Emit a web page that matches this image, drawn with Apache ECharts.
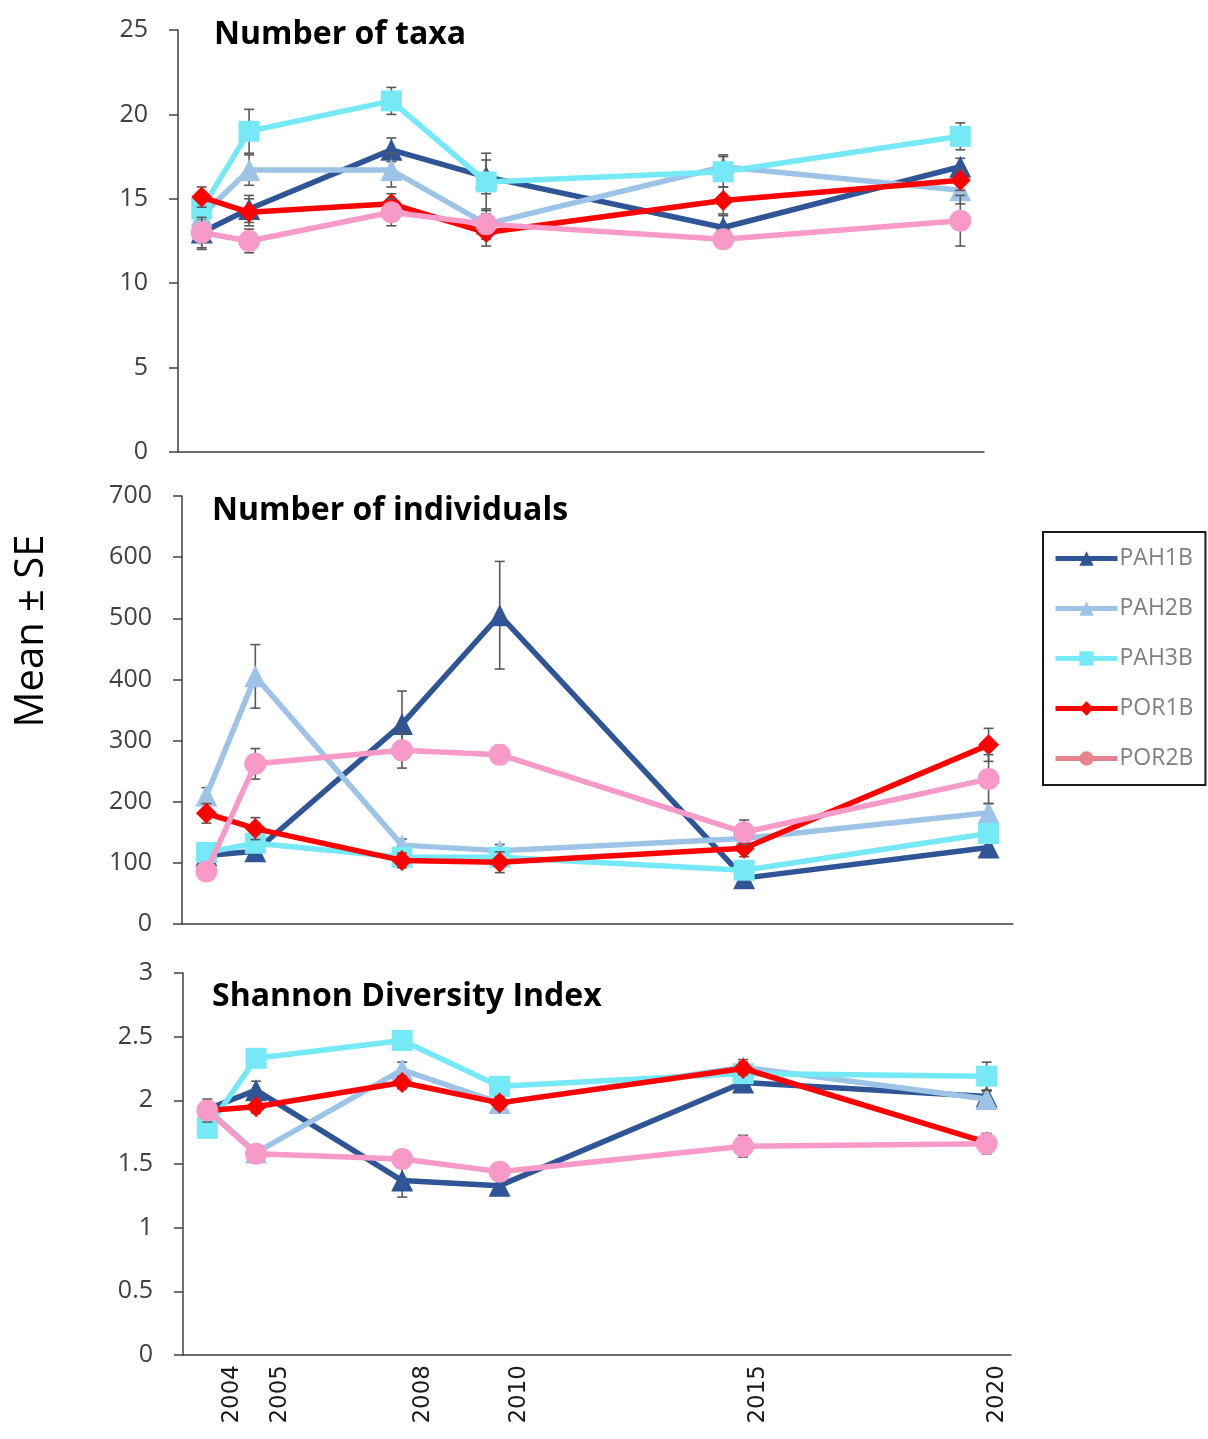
<!DOCTYPE html>
<html>
<head>
<meta charset="utf-8">
<title>Benthic community metrics, 2004–2020</title>
<script src="https://cdn.jsdelivr.net/npm/echarts@6/dist/echarts.min.js"></script>
<style>
  html, body { margin: 0; padding: 0; background: #fff; }
  #chart { width: 1208px; height: 1439px; }
</style>
</head>
<body>
<div id="chart"></div>
<script>
// Sampling years and sites
const years = [2004, 2005, 2008, 2010, 2015, 2020];
const sites = ['PAH1B', 'PAH2B', 'PAH3B', 'POR1B', 'POR2B'];

// Number of taxa: mean and standard error per site
const taxaPAH1B = [13.0, 14.4, 17.9, 16.3, 13.3, 16.9];
const taxaPAH2B = [14.0, 16.7, 16.7, 13.5, 16.9, 15.5];
const taxaPAH3B = [14.4, 19.0, 20.8, 16.0, 16.6, 18.7];
const taxaPOR1B = [15.1, 14.2, 14.7, 13.0, 14.9, 16.1];
const taxaPOR2B = [13.0, 12.5, 14.2, 13.5, 12.6, 13.7];
const taxaSePAH1B = [1.0, 0.8, 0.7, 1.0, 0.7, 0.5];
const taxaSePAH2B = [0.7, 0.9, 1.0, 0.9, 0.7, 0.8];
const taxaSePAH3B = [0.6, 1.3, 0.8, 1.7, 0.9, 0.8];
const taxaSePOR1B = [0.6, 0.8, 0.6, 0.8, 0.8, 0.6];
const taxaSePOR2B = [0.9, 0.7, 0.8, 0.6, 0.4, 1.5];

// Number of individuals: mean and standard error per site
const indPAH1B = [112, 119, 327, 505, 75, 125];
const indPAH2B = [210, 405, 129, 120, 140, 182];
const indPAH3B = [117, 132, 109, 109, 88, 148];
const indPOR1B = [181, 156, 104, 101, 124, 293];
const indPOR2B = [86, 262, 284, 277, 150, 237];
const indSePAH1B = [10, 12, 54, 88, 10, 10];
const indSePAH2B = [13, 52, 10, 10, 12, 15];
const indSePAH3B = [10, 10, 10, 10, 8, 12];
const indSePOR1B = [16, 18, 12, 17, 14, 27];
const indSePOR2B = [10, 25, 29, 15, 20, 40];

// Shannon diversity index: mean and standard error per site
const shPAH1B = [1.93, 2.08, 1.37, 1.33, 2.14, 2.03];
const shPAH2B = [1.93, 1.59, 2.24, 1.98, 2.26, 2.01];
const shPAH3B = [1.78, 2.33, 2.47, 2.11, 2.21, 2.19];
const shPOR1B = [1.92, 1.95, 2.14, 1.98, 2.25, 1.67];
const shPOR2B = [1.92, 1.58, 1.54, 1.44, 1.64, 1.66];
const shSePAH1B = [0.05, 0.07, 0.13, 0.04, 0.05, 0.05];
const shSePAH2B = [0.06, 0.05, 0.06, 0.05, 0.06, 0.06];
const shSePAH3B = [0.05, 0.05, 0.04, 0.05, 0.05, 0.11];
const shSePOR1B = [0.05, 0.05, 0.05, 0.05, 0.05, 0.06];
const shSePOR2B = [0.09, 0.05, 0.05, 0.04, 0.085, 0.08];

// Panel titles and y-axis tick settings
const panelTitles = ['Number of taxa', 'Number of individuals', 'Shannon Diversity Index'];
const yMax = [25, 700, 3];
const yStep = [5, 100, 0.5];

const panels = [
  { means: [taxaPAH1B, taxaPAH2B, taxaPAH3B, taxaPOR1B, taxaPOR2B],
    ses:   [taxaSePAH1B, taxaSePAH2B, taxaSePAH3B, taxaSePOR1B, taxaSePOR2B] },
  { means: [indPAH1B, indPAH2B, indPAH3B, indPOR1B, indPOR2B],
    ses:   [indSePAH1B, indSePAH2B, indSePAH3B, indSePOR1B, indSePOR2B] },
  { means: [shPAH1B, shPAH2B, shPAH3B, shPOR1B, shPOR2B],
    ses:   [shSePAH1B, shSePAH2B, shSePAH3B, shSePOR1B, shSePOR2B] }
];

const siteColors = ['#2F5597', '#9DC3E6', '#75EAF6', '#FF0000', '#F79AC8'];
const siteSymbols = ['triangle', 'triangle', 'rect', 'diamond', 'circle'];
const siteSymbolSizes = [22, 22, 21, 21, 22];

const FONT = '"Open Sans", "Liberation Sans", sans-serif';
const axisColor = '#404040';

const grids = [
  { left: 178, top: 30, width: 806, height: 422 },
  { left: 182, top: 496, width: 831, height: 428 },
  { left: 183, top: 973, width: 828, height: 382 }
];

function errorBar(params, api) {
  const x = api.value(0);
  const lo = api.coord([x, api.value(1)]);
  const hi = api.coord([x, api.value(2)]);
  const hw = 5;
  const style = { stroke: '#5a5a5a', lineWidth: 1.6 };
  return {
    type: 'group',
    children: [
      { type: 'line', shape: { x1: lo[0], y1: lo[1], x2: hi[0], y2: hi[1] }, style },
      { type: 'line', shape: { x1: lo[0] - hw, y1: lo[1], x2: lo[0] + hw, y2: lo[1] }, style },
      { type: 'line', shape: { x1: hi[0] - hw, y1: hi[1], x2: hi[0] + hw, y2: hi[1] }, style }
    ]
  };
}

const xAxes = [];
const yAxes = [];
const series = [];

panels.forEach((panel, p) => {
  xAxes.push({
    type: 'value', gridIndex: p, min: 2003.5, max: 2020.5,
    axisLine: { show: true, lineStyle: { color: axisColor, width: 1.5 } },
    axisTick: { show: false }, axisLabel: { show: false }, splitLine: { show: false }
  });
  yAxes.push({
    type: 'value', gridIndex: p, min: 0, max: yMax[p], interval: yStep[p],
    axisLine: { show: true, lineStyle: { color: axisColor, width: 1.5 } },
    axisTick: { show: true, length: 9, lineStyle: { color: axisColor, width: 1.5 } },
    axisLabel: { color: '#404040', fontSize: 25, fontFamily: FONT, margin: 30 },
    splitLine: { show: false }
  });
  sites.forEach((site, i) => {
    const m = panel.means[i];
    const s = panel.ses[i];
    // error bars sit just beneath their own series' line and markers
    series.push({
      name: site + ' SE', type: 'custom', xAxisIndex: p, yAxisIndex: p,
      renderItem: errorBar,
      data: years.map((y, k) => [y, m[k] - s[k], m[k] + s[k]]),
      encode: { x: 0, y: [1, 2] },
      z: 1 + i * 2, silent: true, animation: false
    });
    series.push({
      name: site, type: 'line', xAxisIndex: p, yAxisIndex: p,
      data: years.map((y, k) => [y, m[k]]),
      symbol: siteSymbols[i], symbolSize: siteSymbolSizes[i],
      lineStyle: { color: siteColors[i], width: 5.5 },
      itemStyle: { color: siteColors[i] },
      z: 2 + i * 2, silent: true, animation: false
    });
  });
});

// Year labels under the bottom panel
xAxes.push({
  type: 'value', gridIndex: 2, min: 2002.97, max: 2020.29, position: 'bottom',
  axisLine: { show: false }, axisTick: { show: false }, splitLine: { show: false },
  axisLabel: {
    customValues: years, rotate: 90, margin: 10,
    fontSize: 23, color: '#1a1a1a', fontFamily: '"DejaVu Sans", sans-serif',
    formatter: v => String(v)
  }
});

const titles = panelTitles.map((t, p) => ({
  text: t,
  left: [214, 212, 212][p],
  top: [19, 495, 981][p],
  padding: 0,
  textStyle: { fontSize: 32, fontWeight: 'bold', color: '#000', fontFamily: FONT }
}));

const legendColors = ['#2F5597', '#9DC3E6', '#75EAF6', '#FF0000', '#E6838D'];

const chart = echarts.init(document.getElementById('chart'), null, { renderer: 'canvas' });
chart.setOption({
  backgroundColor: '#fff',
  animation: false,
  title: titles,
  grid: grids,
  xAxis: xAxes,
  yAxis: yAxes,
  graphic: [{
    type: 'text', x: 32, y: 631, rotation: Math.PI / 2,
    style: {
      text: 'Mean ± SE', align: 'center', verticalAlign: 'middle',
      font: '40px "Open Sans", sans-serif', fill: '#000'
    }
  }],
  legend: {
    orient: 'vertical', left: 1043, top: 532,
    data: sites.map((s, i) => ({
      name: s,
      itemStyle: { color: legendColors[i] },
      lineStyle: { color: legendColors[i], width: 5 }
    })),
    borderColor: '#1a1a1a', borderWidth: 2,
    padding: [15, 12, 15, 10],
    itemWidth: 62, itemHeight: 18, itemGap: 27,
    textStyle: { fontSize: 23, color: '#7f7f7f', fontFamily: FONT, padding: [0, 0, 0, -3] }
  },
  series
});
</script>
</body>
</html>
